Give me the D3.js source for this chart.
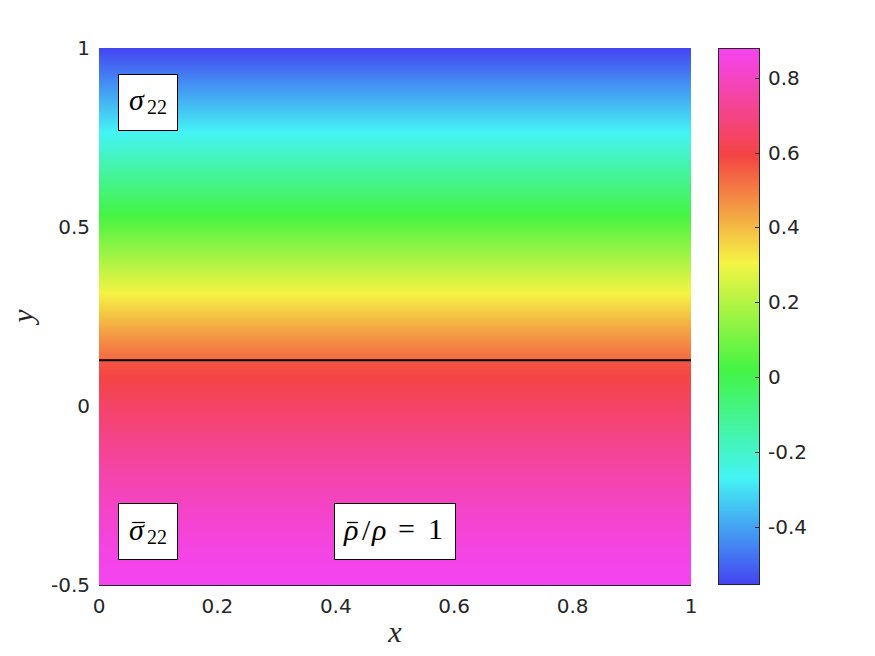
<!DOCTYPE html>
<html>
<head>
<meta charset="utf-8">
<script src="https://cdn.jsdelivr.net/npm/d3@7"></script>
<style>
  html, body { margin: 0; padding: 0; background: #ffffff; }
  svg { display: block; }
</style>
</head>
<body>
<svg id="chart" width="875" height="656"></svg>
<script>
// ---------------- data ----------------
// sigma_22 profile (uniform in x), upper layer above interface, lower layer below
const upperY = [1.0, 0.9, 0.8, 0.7, 0.6, 0.5, 0.4, 0.3, 0.2, 0.128];
const upperV = [-0.554, -0.432, -0.311, -0.188, -0.063, 0.063, 0.193, 0.325, 0.45, 0.535];
const lowerY = [0.128, 0.1, 0.0, -0.1, -0.2, -0.3, -0.4, -0.5];
const lowerV = [0.565, 0.58, 0.648, 0.71, 0.765, 0.815, 0.853, 0.879];
const interfaceY = 0.128;

const xTicks = [0, 0.2, 0.4, 0.6, 0.8, 1];
const yTicks = [-0.5, 0, 0.5, 1];
const cbTicks = [-0.4, -0.2, 0, 0.2, 0.4, 0.6, 0.8];
const cRange = [-0.554, 0.879];
const cmapColors = ["#4444f2", "#44f4f4", "#44f444", "#f4f444", "#f44444", "#f444f2"];

// ---------------- layout ----------------
const svg = d3.select("#chart");
const plot = { left: 99, right: 691, top: 48, bottom: 585 };
const cb = { left: 718, right: 760, top: 48, bottom: 585 };
const tickFont = "'DejaVu Sans', sans-serif";
const mathFont = "'Liberation Serif', 'Times New Roman', serif";
const axisColor = "#262626";
const fmt = d => String(d);

const x = d3.scaleLinear().domain([0, 1]).range([plot.left, plot.right]);
const y = d3.scaleLinear().domain([-0.5, 1]).range([plot.bottom, plot.top]);

const cmap = d3.scaleLinear()
  .domain(d3.range(cmapColors.length).map(i => cRange[0] + i * (cRange[1] - cRange[0]) / (cmapColors.length - 1)))
  .range(cmapColors)
  .clamp(true);

const upperScale = d3.scaleLinear().domain(upperY).range(upperV);
const lowerScale = d3.scaleLinear().domain(lowerY.slice().reverse()).range(lowerV.slice().reverse());

// ---------------- field image ----------------
const field = svg.append("g");
for (let py = plot.top; py < plot.bottom; py++) {
  const yv = y.invert(py + 0.5);
  const v = yv >= interfaceY ? upperScale(yv) : lowerScale(yv);
  field.append("rect")
    .attr("x", plot.left).attr("y", py)
    .attr("width", plot.right - plot.left).attr("height", 1.05)
    .attr("fill", cmap(v));
}

// interface line
svg.append("line")
  .attr("x1", x(0)).attr("x2", x(1))
  .attr("y1", y(interfaceY)).attr("y2", y(interfaceY))
  .attr("stroke", "#000").attr("stroke-width", 2);

// bottom axis line
svg.append("line")
  .attr("x1", plot.left).attr("x2", plot.right)
  .attr("y1", plot.bottom + 0.5).attr("y2", plot.bottom + 0.5)
  .attr("stroke", axisColor).attr("stroke-width", 1);

// ---------------- axes tick labels ----------------
svg.append("g").selectAll("text").data(xTicks).join("text")
  .attr("x", d => x(d)).attr("y", 613)
  .attr("text-anchor", "middle")
  .attr("font-family", tickFont).attr("font-size", 20).attr("fill", axisColor)
  .text(fmt);

svg.append("g").selectAll("text").data(yTicks).join("text")
  .attr("x", 90).attr("y", d => y(d) + 7)
  .attr("text-anchor", "end")
  .attr("font-family", tickFont).attr("font-size", 20).attr("fill", axisColor)
  .text(fmt);

// axis labels
svg.append("text")
  .attr("x", 395).attr("y", 642)
  .attr("text-anchor", "middle")
  .attr("font-family", mathFont).attr("font-style", "italic").attr("font-size", 30)
  .attr("fill", axisColor)
  .text("x");

svg.append("text")
  .attr("transform", "translate(33,316) rotate(-90)")
  .attr("text-anchor", "middle")
  .attr("font-family", mathFont).attr("font-style", "italic").attr("font-size", 30)
  .attr("fill", axisColor)
  .text("y");

// ---------------- colorbar ----------------
const cy = d3.scaleLinear().domain(cRange).range([cb.bottom, cb.top]);
const cbg = svg.append("g");
for (let py = cb.top; py < cb.bottom; py++) {
  cbg.append("rect")
    .attr("x", cb.left).attr("y", py)
    .attr("width", cb.right - cb.left).attr("height", 1.05)
    .attr("fill", cmap(cy.invert(py + 0.5)));
}
svg.append("rect")
  .attr("x", cb.left + 0.5).attr("y", cb.top + 0.5)
  .attr("width", cb.right - cb.left - 1).attr("height", cb.bottom - cb.top - 1)
  .attr("fill", "none").attr("stroke", axisColor).attr("stroke-width", 1);
svg.append("g").selectAll("line").data(cbTicks).join("line")
  .attr("x1", cb.right - 5).attr("x2", cb.right)
  .attr("y1", d => Math.round(cy(d)) + 0.5).attr("y2", d => Math.round(cy(d)) + 0.5)
  .attr("stroke", axisColor).attr("stroke-width", 1);
svg.append("g").selectAll("text").data(cbTicks).join("text")
  .attr("x", 768).attr("y", d => cy(d) + 7)
  .attr("text-anchor", "start")
  .attr("font-family", tickFont).attr("font-size", 20).attr("fill", axisColor)
  .text(fmt);

// ---------------- annotation boxes ----------------
function box(x0, y0, w, h) {
  svg.append("rect")
    .attr("x", x0 + 0.5).attr("y", y0 + 0.5).attr("width", w).attr("height", h)
    .attr("fill", "#fff").attr("stroke", "#000").attr("stroke-width", 1);
}
function glyph(txt, gx, gy, size, italic) {
  return svg.append("text")
    .attr("x", gx).attr("y", gy)
    .attr("font-family", mathFont)
    .attr("font-style", italic ? "italic" : "normal")
    .attr("font-size", size).attr("fill", "#000")
    .text(txt);
}
function bar(x1, x2, by) {
  svg.append("line")
    .attr("x1", x1).attr("x2", x2).attr("y1", by).attr("y2", by)
    .attr("stroke", "#000").attr("stroke-width", 1.3);
}

// sigma_22 (top)
box(118, 74, 59, 56);
glyph("σ", 129, 110, 30, true);
glyph("22", 147, 113.5, 20, false);

// bar sigma_22 (bottom)
box(118, 503, 59, 56);
glyph("σ", 129, 540, 30, true);
glyph("22", 147, 543.5, 20, false);
bar(132, 145, 522.5);

// bar rho / rho = 1
box(334, 503, 121, 56);
glyph("ρ", 344, 540, 30, true);
bar(347, 358, 522.5);
glyph("/", 362, 540, 30, false);
glyph("ρ", 372, 540, 30, true);
glyph("=", 398, 539, 30, false);
glyph("1", 428, 539, 30, false);
</script>
</body>
</html>
